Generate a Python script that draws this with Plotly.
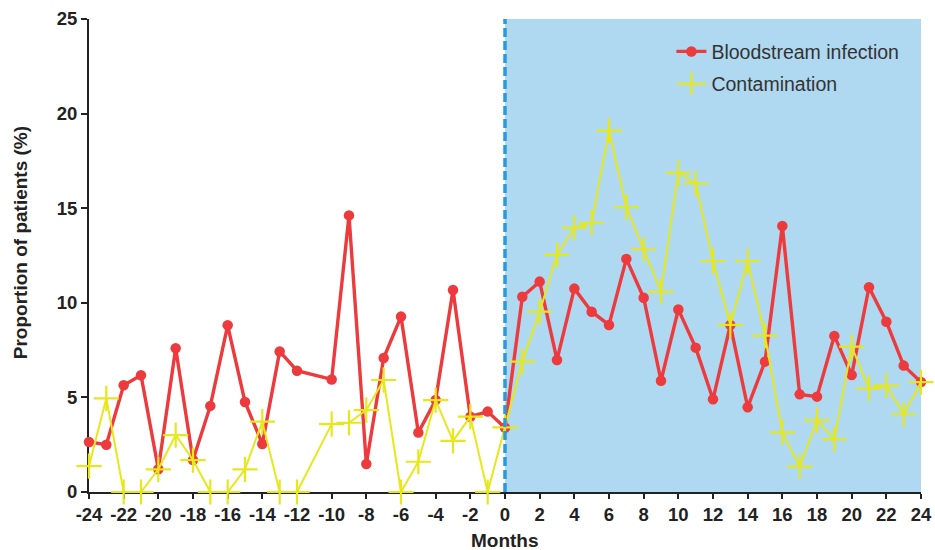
import plotly.graph_objects as go

months = [m for m in range(-24, 25) if m != -11]

bloodstream = [2.64, 2.5, 5.64, 6.17, 1.2, 7.6, 1.69, 4.55, 8.81, 4.76, 2.54, 7.43, 6.41,
               5.95, 14.62, 1.48, 7.08, 9.27, 3.14, 4.86, 10.68, 3.98, 4.25, 3.4,
               10.32, 11.12, 6.98, 10.75, 9.53, 8.83, 12.32, 10.27, 5.88, 9.65, 7.63, 4.9,
               8.83, 4.48, 6.89, 14.06, 5.16, 5.04, 8.25, 6.18, 10.82, 9.0, 6.68, 5.81]

contamination = [1.37, 4.95, 0, 0, 1.2, 3.01, 1.69, 0, 0, 1.2, 3.72, 0, 0,
                 3.59, 3.66, 4.33, 5.92, 0, 1.6, 4.86, 2.7, 3.98, 0, 3.42,
                 6.89, 9.53, 12.53, 13.97, 14.23, 19.1, 15.05, 12.83, 10.59, 16.88, 16.31, 12.21,
                 8.83, 12.21, 8.26, 3.15, 1.34, 3.8, 2.78, 7.68, 5.48, 5.62, 4.11, 5.81]

x_ticks = list(range(-24, 25, 2))
y_ticks = [0, 5, 10, 15, 20, 25]

RED = "#EC3A3D"
YEL = "#E6E81C"
FONT = "Liberation Sans, Arial"

fig = go.Figure()
fig.add_trace(go.Scatter(
    x=months, y=bloodstream, name="Bloodstream infection", mode="lines+markers",
    legendgroup="a",
    line=dict(color=RED, width=3.4), marker=dict(symbol="circle", size=10.5, color=RED),
    cliponaxis=False))
fig.add_trace(go.Scatter(
    x=months, y=contamination, name="Contamination", mode="lines+markers",
    legendgroup="b",
    line=dict(color=YEL, width=2), marker=dict(symbol="cross-thin", size=18,
                                                line=dict(color=YEL, width=2.2)),
    cliponaxis=False))

fig.add_shape(type="rect", xref="x", yref="y", x0=0, x1=24, y0=0, y1=25,
              fillcolor="#AFD8F1", line=dict(width=0), layer="below")
fig.add_shape(type="line", xref="x", yref="y", x0=0, x1=0, y0=0, y1=25,
              line=dict(color="#2D98DA", width=3.5, dash="9px,4px"), layer="above")

tickfont = dict(family=FONT, size=18.5, color="#222", weight="bold")
titlefont = dict(family=FONT, size=19, color="#222", weight="bold")

fig.add_annotation(text="Months", xref="paper", yref="paper", x=0.5, y=-0.1015,
                   xanchor="center", yanchor="middle", showarrow=False, font=titlefont)
fig.add_annotation(text="Proportion of patients (%)", xref="paper", yref="paper",
                   x=-0.083, y=0.528, xanchor="center", yanchor="middle", textangle=-90,
                   showarrow=False, font=titlefont)

fig.update_layout(
    width=935, height=550,
    margin=dict(l=89, r=14, t=19, b=58),
    plot_bgcolor="white", paper_bgcolor="white",
    showlegend=True,
    legend=dict(x=0.7, y=0.972, xanchor="left", yanchor="top",
                bgcolor="rgba(0,0,0,0)", traceorder="grouped",
                font=dict(family=FONT, size=19.5, color="#333"),
                tracegroupgap=4),
    xaxis=dict(range=[-24, 24], tickvals=x_ticks, ticktext=[str(v) for v in x_ticks],
               showline=True, linecolor="#222", linewidth=2, ticks="outside",
               ticklen=5, tickwidth=2, tickcolor="#222", showgrid=False, zeroline=False,
               tickfont=tickfont, automargin=False, layer="below traces"),
    yaxis=dict(range=[0, 25], tickvals=y_ticks, showline=True, linecolor="#222",
               linewidth=2, ticks="outside", ticklen=6, tickwidth=2, tickcolor="#222",
               showgrid=False, zeroline=False, tickfont=tickfont, automargin=False,
               layer="below traces"),
)

fig.write_html("out.html", config={"displayModeBar": False},
               post_script="document.body.style.margin='0';")
